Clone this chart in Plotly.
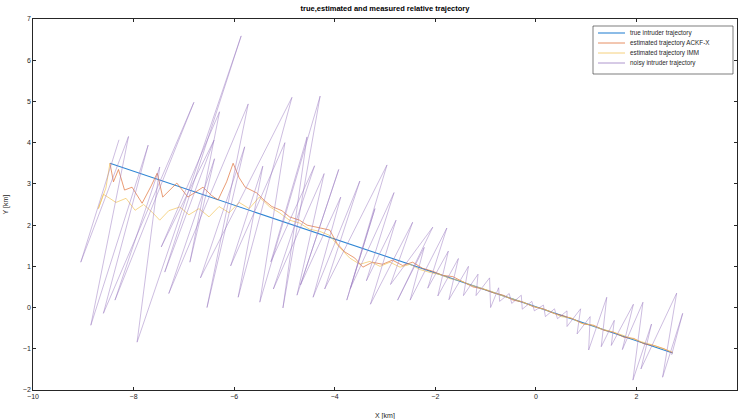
import plotly.graph_objects as go

# ---------------- data ----------------
true_x = [-8.47, 2.72]
true_y = [3.50, -1.10]

noisy_x = [-8.29, -9.05, -8.10, -8.85, -7.71, -8.60, -6.80, -8.37, -7.48, -7.93,
           -5.86, -7.38, -6.40, -7.45, -6.29, -6.88, -6.39, -7.30, -5.72, -6.54,
           -5.79, -6.67, -4.85, -5.92, -5.43, -6.07, -4.99, -5.49, -4.29, -5.03,
           -4.55, -5.27, -4.40, -5.22, -4.21, -4.75, -3.92, -4.68, -3.88, -4.43,
           -3.50, -4.20, -2.96, -3.76, -3.20, -3.69, -2.82, -3.37, -2.78, -3.29,
           -2.45, -2.89, -2.05, -2.75, -2.22, -2.50, -1.77, -2.15, -1.74, -1.95,
           -1.54, -1.73, -1.34, -1.44, -1.15, -1.19, -0.92, -0.90, -0.74, -0.72,
           -0.53, -0.48, -0.29, -0.27, -0.08, -0.03, 0.15, 0.19, 0.37, 0.43,
           0.62, 0.62, 0.89, 0.82, 1.08, 1.05, 1.41, 1.30, 1.56, 1.50,
           1.94, 1.72, 2.13, 1.93, 2.30, 2.09, 2.80, 2.52, 2.92, 2.70]
noisy_y = [4.07, 1.10, 4.15, -0.43, 3.94, -0.14, 4.98, 0.18, 3.41, -0.84,
           6.59, 0.86, 4.06, 1.47, 4.75, 1.10, 3.61, 0.34, 4.94, 0.00,
           3.90, 0.72, 5.10, 0.25, 3.43, 1.01, 4.00, 0.13, 5.13, -0.01,
           4.14, 1.11, 3.44, 0.45, 3.25, 0.30, 3.35, 0.55, 2.68, 0.25,
           3.07, 0.45, 3.46, 0.18, 2.40, 0.46, 2.79, 0.65, 2.12, 0.08,
           2.07, 0.56, 1.95, 0.18, 1.46, 0.18, 1.93, 0.47, 1.37, 0.28,
           1.19, 0.19, 1.00, 0.29, 0.81, 0.29, 0.72, 0.00, 0.48, 0.15,
           0.34, 0.10, 0.30, -0.04, 0.15, -0.08, 0.06, -0.22, -0.03, -0.27,
           -0.08, -0.46, -0.03, -0.64, -0.22, -1.03, 0.25, -0.95, -0.31, -0.92,
           0.08, -1.02, 0.13, -1.76, -0.40, -1.49, 0.35, -1.69, -0.14, -1.15]

ackf_x = [-8.47, -8.40, -8.30, -8.18, -8.03, -7.83, -7.65, -7.53, -7.42, -7.28,
          -7.14, -6.92, -6.78, -6.62, -6.45, -6.32, -6.15, -6.02, -5.90, -5.78,
          -5.55, -5.40, -5.25, -5.05, -4.90, -4.70, -4.55, -4.35, -4.10, -3.95,
          -3.80, -3.60, -3.44, -3.25, -3.05, -2.85, -2.65, -2.45, -2.25, -2.05,
          -1.85, -1.65, -1.45, -1.25, -1.05, -0.85, -0.65, -0.45, -0.25, -0.05,
          0.15, 0.35, 0.55, 0.75, 0.95, 1.15, 1.35, 1.55, 1.75, 1.95,
          2.15, 2.35, 2.55, 2.72]
ackf_y = [3.50, 3.05, 3.35, 2.85, 2.92, 2.53, 2.95, 3.26, 2.68, 2.85,
          3.02, 2.68, 2.80, 2.92, 2.72, 2.61, 3.05, 3.50, 3.15, 2.92,
          2.78, 2.60, 2.45, 2.35, 2.20, 2.12, 2.00, 1.95, 1.88, 1.55,
          1.35, 1.20, 0.98, 1.10, 1.05, 1.15, 1.02, 1.10, 0.95, 0.88,
          0.78, 0.75, 0.62, 0.50, 0.45, 0.36, 0.30, 0.18, 0.13, 0.02,
          -0.03, -0.14, -0.20, -0.28, -0.40, -0.43, -0.55, -0.60, -0.72, -0.75,
          -0.88, -0.92, -1.00, -1.10]

imm_x = [-8.47, -8.55, -8.70, -8.60, -8.35, -8.15, -7.97, -7.80, -7.62, -7.48,
         -7.30, -7.08, -6.90, -6.70, -6.50, -6.30, -6.10, -5.90, -5.70, -5.50,
         -5.30, -5.10, -4.90, -4.70, -4.50, -4.30, -4.10, -3.90, -3.70, -3.50,
         -3.30, -3.10, -2.90, -2.70, -2.50, -2.30, -2.10, -1.90, -1.70, -1.50,
         -1.30, -1.10, -0.90, -0.70, -0.50, -0.30, -0.10, 0.10, 0.30, 0.50,
         0.70, 0.90, 1.10, 1.30, 1.50, 1.70, 1.90, 2.10, 2.30, 2.50, 2.72]
imm_y = [3.50, 2.90, 2.40, 2.75, 2.55, 2.65, 2.36, 2.50, 2.30, 2.12,
         2.35, 2.44, 2.25, 2.40, 2.20, 2.45, 2.30, 2.55, 2.40, 2.68,
         2.45, 2.30, 2.12, 2.05, 1.90, 1.85, 1.75, 1.45, 1.20, 1.05,
         1.12, 1.00, 1.10, 0.98, 1.05, 0.92, 0.85, 0.80, 0.70, 0.65,
         0.55, 0.48, 0.40, 0.30, 0.22, 0.15, 0.05, -0.02, -0.10, -0.22,
         -0.25, -0.38, -0.42, -0.52, -0.58, -0.66, -0.75, -0.83, -0.90, -0.98, -1.08]

x_ticks = [-10, -8, -6, -4, -2, 0, 2, 4]
y_ticks = [-2, -1, 0, 1, 2, 3, 4, 5, 6, 7]

names = ["true intruder trajectory", "estimated trajectory ACKF-X",
         "estimated trajectory IMM", "noisy intruder trajectory"]
colors = ["#2E86D4", "#E0713A", "#F2C45A", "#9A7BC0"]
widths = [1.1, 0.7, 0.7, 0.5]
title_text = "true,estimated and measured relative trajectory"
x_label = "X [km]"
y_label = "Y [km]"

# ---------------- figure ----------------
W, H = 738, 419
ml, mr, mt, mb = 33, 1, 19, 29
PW, PH = W - ml - mr, H - mt - mb
FONT = "Liberation Sans, Arial, sans-serif"
AX = "#262626"


def px(xp):
    return (xp - ml) / PW


def py(yp):
    return 1 - (yp - mt) / PH


fig = go.Figure()
series = [(true_x, true_y), (ackf_x, ackf_y), (imm_x, imm_y), (noisy_x, noisy_y)]
for (sx, sy), nm, c, w in zip(series, names, colors, widths):
    fig.add_trace(go.Scatter(x=sx, y=sy, mode="lines", name=nm,
                             line=dict(color=c, width=w), showlegend=False))

axis_common = dict(showline=True, mirror="ticks", linecolor=AX, linewidth=0.6,
                   ticks="inside", ticklen=3, tickwidth=0.6, tickcolor=AX,
                   showgrid=False, zeroline=False,
                   tickfont=dict(family=FONT, size=7, color=AX),
                   automargin=False)

fig.update_xaxes(range=[-10, 4], tickvals=x_ticks, **axis_common)
fig.update_yaxes(range=[-2, 7], tickvals=y_ticks, **axis_common)

# manual compact legend (MATLAB style)
shapes = [dict(type="rect", xref="paper", yref="paper",
               x0=px(593), x1=px(733), y0=py(74), y1=py(26),
               line=dict(color=AX, width=0.6), fillcolor="white", layer="above")]
annotations = []
row_y = [33, 43, 53, 63]
for ry, nm, c, w in zip(row_y, names, colors, widths):
    shapes.append(dict(type="line", xref="paper", yref="paper",
                       x0=px(598), x1=px(625), y0=py(ry), y1=py(ry),
                       line=dict(color=c, width=max(w, 0.8)), layer="above"))
    annotations.append(dict(text=nm, xref="paper", yref="paper",
                            x=px(628), y=py(ry), xanchor="left", yanchor="middle",
                            showarrow=False,
                            font=dict(family=FONT, size=6.3, color=AX)))

annotations += [
    dict(text=x_label, xref="paper", yref="paper", x=0.5, y=0,
         yshift=-20, yanchor="top", showarrow=False,
         font=dict(family=FONT, size=7, color=AX)),
    dict(text=y_label, xref="paper", yref="paper", x=0, y=0.5,
         xshift=-22, xanchor="right", textangle=-90, showarrow=False,
         font=dict(family=FONT, size=7, color=AX)),
]

fig.update_layout(
    width=W, height=H,
    margin=dict(l=ml, r=mr, t=mt, b=mb, pad=0),
    paper_bgcolor="white", plot_bgcolor="white",
    showlegend=False,
    shapes=shapes,
    annotations=annotations,
    title=dict(text="<b>" + title_text + "</b>", x=(ml + PW / 2) / W,
               xanchor="center", y=1 - 8.5 / H, yanchor="middle",
               font=dict(family=FONT, size=7.5, color="#000000")),
)

fig.write_html("out.html")
